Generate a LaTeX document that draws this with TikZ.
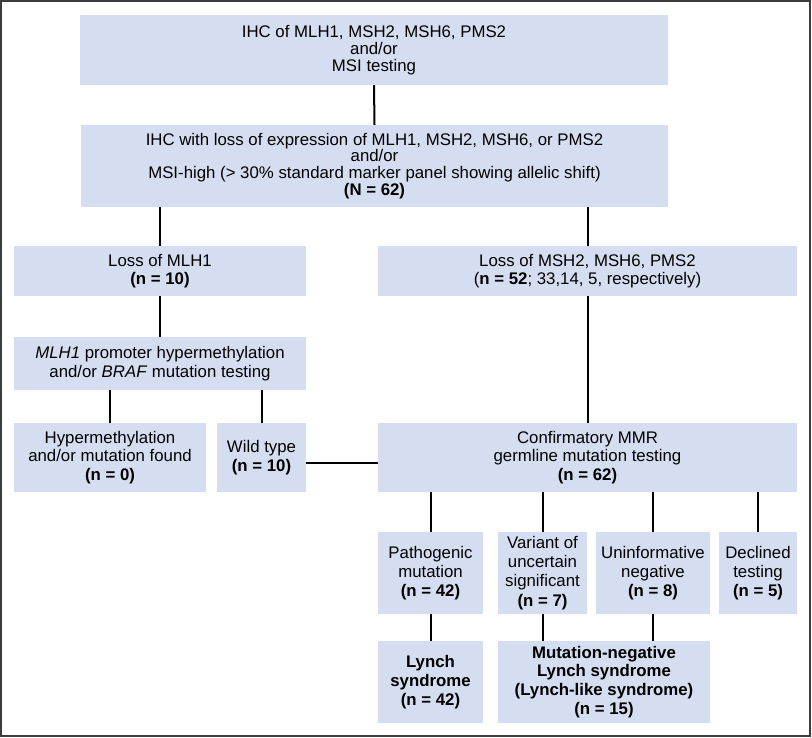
\documentclass[tikz,border=0pt]{standalone}
\usepackage{fontspec}
\setmainfont{Liberation Sans}
\definecolor{boxfill}{RGB}{213,222,241}
\definecolor{framecol}{RGB}{60,60,60}
\begin{document}
\begin{tikzpicture}[x=1pt,y=-1pt,
  box/.style={fill=boxfill,draw=none,inner sep=0pt,align=center,
    font=\fontsize{16.8}{18.5}\selectfont},
  topbox/.style={box,font=\fontsize{16.8}{16.8}\selectfont},
  lowbox/.style={box,font=\fontsize{16.8}{19.2}\selectfont},
  link/.style={draw=black,line width=2pt}]
\useasboundingbox (0,0) rectangle (812,738);
\draw[framecol,line width=1.5pt] (1,1) rectangle (810,736);
% nodes
\node[topbox,minimum width=588pt,minimum height=70pt] (top) at (374,50)
  {IHC of MLH1, MSH2, MSH6, PMS2\\and/or\\MSI testing};
\node[topbox,minimum width=587pt,minimum height=82pt] (ihc) at (374.5,166)
  {IHC with loss of expression of MLH1, MSH2, MSH6, or PMS2\\and/or\\MSI-high (> 30\% standard marker panel showing allelic shift)\\\textbf{(N = 62)}};
\node[box,minimum width=292pt,minimum height=50pt] (mlh) at (160,271)
  {Loss of MLH1\\\textbf{(n = 10)}};
\node[box,minimum width=419pt,minimum height=50pt] (msh) at (587.5,271)
  {Loss of MSH2, MSH6, PMS2\\(\textbf{n = 52}; 33,14, 5, respectively)};
\node[box,minimum width=292pt,minimum height=52pt] (prom) at (160,363.5)
  {\textit{MLH1} promoter hypermethylation\\and/or \textit{BRAF} mutation testing};
\node[box,minimum width=192pt,minimum height=69pt] (hyper) at (110,457.5)
  {Hypermethylation\\and/or mutation found\\\textbf{(n = 0)}};
\node[box,minimum width=89pt,minimum height=69pt] (wild) at (261.5,457.5)
  {Wild type\\\textbf{(n = 10)}};
\node[box,minimum width=419pt,minimum height=69pt] (conf) at (587.5,457.5)
  {Confirmatory MMR\\germline mutation testing\\\textbf{(n = 62)}};
\node[lowbox,minimum width=105pt,minimum height=82pt] (patho) at (430.5,573)
  {Pathogenic\\mutation\\\textbf{(n = 42)}};
\node[lowbox,minimum width=89pt,minimum height=82pt] (vus) at (542.5,573)
  {Variant of\\uncertain\\significant\\\textbf{(n = 7)}};
\node[lowbox,minimum width=114pt,minimum height=82pt] (uninf) at (653,573)
  {Uninformative\\negative\\\textbf{(n = 8)}};
\node[lowbox,minimum width=78pt,minimum height=82pt] (decl) at (758,573)
  {Declined\\testing\\\textbf{(n = 5)}};
\node[lowbox,minimum width=105pt,minimum height=82pt,font=\fontsize{16.8}{19.2}\selectfont\bfseries] (lynch) at (430.5,682)
  {Lynch\\syndrome\\(n = 42)};
\node[lowbox,minimum width=212pt,minimum height=82pt,font=\fontsize{16.8}{18.8}\selectfont\bfseries] (mneg) at (604,682)
  {Mutation-negative\\Lynch syndrome\\(Lynch-like syndrome)\\(n = 15)};
% connectors
\draw[link] (top.south) -- (ihc.north);
\draw[link] (ihc.south -| mlh.north) -- (mlh.north);
\draw[link] (ihc.south -| msh.north) -- (msh.north);
\draw[link] (mlh.south) -- (prom.north);
\draw[link] (prom.south -| hyper.north) -- (hyper.north);
\draw[link] (prom.south -| wild.north) -- (wild.north);
\draw[link] (msh.south) -- (conf.north);
\draw[link] ([yshift=-5pt]wild.east) -- ([yshift=-5pt]conf.west);
\draw[link] (conf.south -| patho.north) -- (patho.north);
\draw[link] (conf.south -| vus.north) -- (vus.north);
\draw[link] (conf.south -| uninf.north) -- (uninf.north);
\draw[link] (conf.south -| decl.north) -- (decl.north);
\draw[link] (patho.south) -- (lynch.north);
\draw[link] (vus.south) -- (vus.south |- mneg.north);
\draw[link] (uninf.south) -- (uninf.south |- mneg.north);
\end{tikzpicture}
\end{document}
